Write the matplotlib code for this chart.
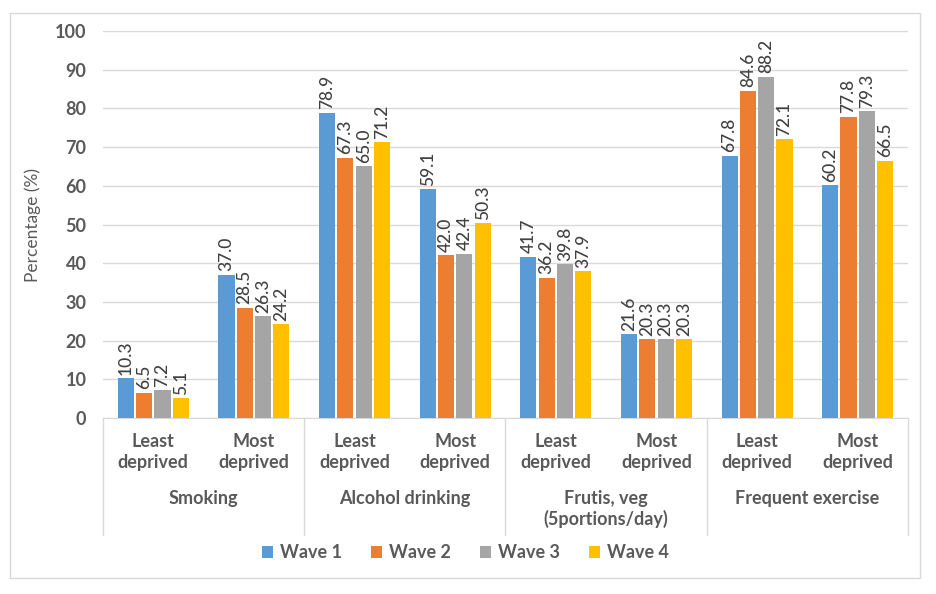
import matplotlib

matplotlib.use("Agg")
import matplotlib.pyplot as plt
import numpy as np
from matplotlib.patches import Rectangle

plt.rcParams["font.family"] = ["Lato", "DejaVu Sans"]

# ---- data ----
sub_labels = ["Least\ndeprived", "Most\ndeprived"] * 4
group_labels = ["Smoking", "Alcohol drinking", "Frutis, veg\n(5portions/day)", "Frequent exercise"]
waves = ["Wave 1", "Wave 2", "Wave 3", "Wave 4"]
wave1 = [10.3, 37.0, 78.9, 59.1, 41.7, 21.6, 67.8, 60.2]
wave2 = [6.5, 28.5, 67.3, 42.0, 36.2, 20.3, 84.6, 77.8]
wave3 = [7.2, 26.3, 65.0, 42.4, 39.8, 20.3, 88.2, 79.3]
wave4 = [5.1, 24.2, 71.2, 50.3, 37.9, 20.3, 72.1, 66.5]
colors = ["#5B9BD5", "#ED7D31", "#A5A5A5", "#FFC000"]

series = [wave1, wave2, wave3, wave4]
TXT = "#595959"

fig = plt.figure(figsize=(9.37, 5.94), dpi=100)
# outer chart frame
fig.patches.append(Rectangle((10 / 937, 1 - 578 / 594), 910 / 937, 565 / 594,
                             transform=fig.transFigure, fill=False,
                             edgecolor="#D9D9D9", linewidth=1.0))
ax = fig.add_axes([103 / 937, 1 - 418 / 594, 805 / 937, 387 / 594])

x = np.arange(len(sub_labels))
step, width = 0.182, 0.16
for i, (vals, name, c) in enumerate(zip(series, waves, colors)):
    pos = x + (i - 1.5) * step
    ax.bar(pos, vals, width=width, color=c, label=name, zorder=3)
    for px, v in zip(pos, vals):
        ax.annotate(f"{v:.1f}", (px, v), xytext=(0, 2.5), textcoords="offset points",
                    rotation=90, ha="center", va="bottom", fontsize=12.5,
                    color="#404040", fontweight="medium")

ax.set_xlim(-0.5, len(sub_labels) - 0.5)
ax.set_ylim(0, 100)
ax.set_yticks(range(0, 101, 10))
ax.grid(axis="y", color="#D9D9D9", linewidth=1.0, zorder=0)
for s in ["top", "right", "left"]:
    ax.spines[s].set_visible(False)
ax.spines["bottom"].set_color("#D9D9D9")
ax.tick_params(axis="y", length=0, pad=12, labelsize=13, labelcolor=TXT)
for t in ax.get_yticklabels():
    t.set_fontweight("bold")
ax.set_ylabel("Percentage (%)", fontsize=12.5, color=TXT, labelpad=10)

# multi-level category axis
ax.set_xticks([])
for k in range(5):
    ax.plot([k / 4, k / 4], [0, -0.302], transform=ax.transAxes, color="#D9D9D9",
            linewidth=1.0, clip_on=False)
for xi, lab in zip(x, sub_labels):
    ax.text((xi + 0.5) / len(sub_labels), -0.088, lab, transform=ax.transAxes,
            ha="center", va="center", fontsize=13, fontweight="bold", color=TXT,
            linespacing=1.25)
for g, lab in enumerate(group_labels):
    ax.text((g + 0.5) / 4, -0.185, lab, transform=ax.transAxes, ha="center",
            va="top", fontsize=13, fontweight="bold", color=TXT, linespacing=1.25)

leg = fig.legend(loc="center", bbox_to_anchor=(0.497, 1 - 553 / 594), ncol=4,
                 frameon=False, fontsize=13, handlelength=0.6, handleheight=0.6,
                 handletextpad=0.4, columnspacing=1.6)
for t in leg.get_texts():
    t.set_color(TXT)
    t.set_fontweight("bold")

fig.savefig("out.png", dpi=100)
